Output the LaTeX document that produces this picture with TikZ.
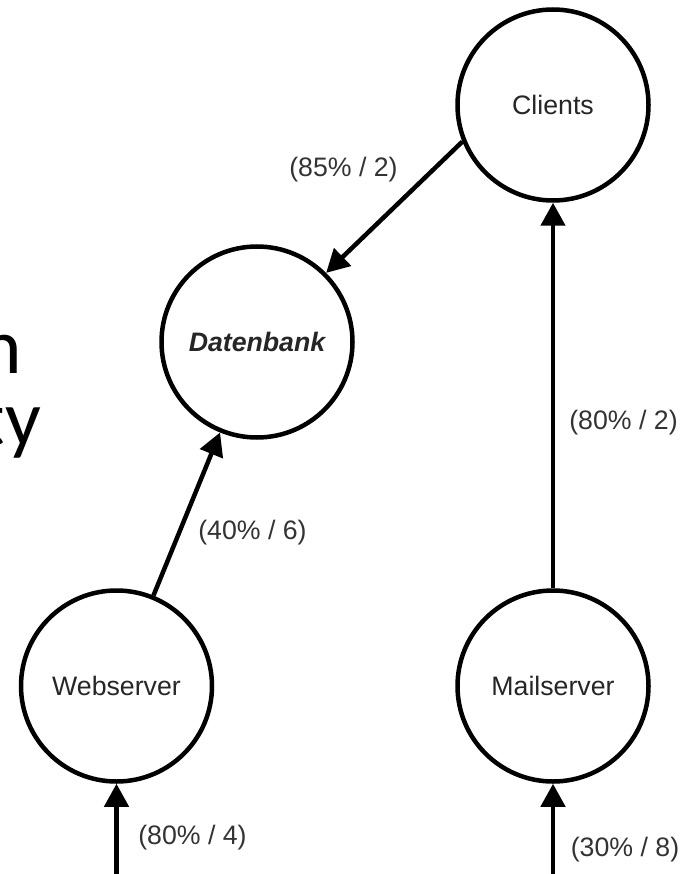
\documentclass[tikz,border=0pt]{standalone}
\usepackage{fontspec}
\setmainfont{Liberation Sans}
\newfontfamily\slidefont{Carlito}
\usetikzlibrary{arrows.meta}
\begin{document}
\begin{tikzpicture}[x=1pt,y=-1pt,
  srv/.style={circle, draw=black, line width=4.5pt, minimum size=191pt, inner sep=0pt,
    font=\fontsize{26.7}{32}\selectfont, text=black!85},
  lbl/.style={font=\fontsize{26.7}{32}\selectfont, text=black!80, inner sep=0pt},
  flow/.style={line width=4.5pt, -{Triangle[length=23pt,width=24pt]}},
  slide/.style={font=\slidefont\fontsize{79}{90}\selectfont, inner sep=0pt, anchor=base east, text=black}]
\useasboundingbox (0,0) rectangle (683,874);
\clip (0,0) rectangle (683,874);
\fill[white] (0,0) rectangle (683,874);

% slide text fragments
\node[slide] (s1) at (22,373) {n};
\node[slide] (s2) at (41,445) {ty};

% nodes
\node[srv] (cl) at (553,105) {Clients};
\node[srv] (db) at (257,342) {\bfseries\itshape Datenbank};
\node[srv] (ws) at (116.5,686) {Webserver};
\node[srv] (ms) at (553,686) {Mailserver};

\coordinate (wsin) at (116.5,890);
\coordinate (msin) at (553,890);

% connectors
\draw[flow] (cl.202.7) -- (db.45);
\draw[flow] (ws) -- (db);
\draw[flow] (ms.north) -- (cl.south);
\draw[flow] (wsin) -- (ws.south);
\draw[flow] (msin) -- (ms.south);

% labels
\node[lbl] (l1) at (343.5,170) {(85\% / 2)};
\node[lbl] (l2) at (252.5,533) {(40\% / 6)};
\node[lbl] (l3) at (623.5,423) {(80\% / 2)};
\node[lbl] (l4) at (192.5,838) {(80\% / 4)};
\node[lbl] (l5) at (625,850) {(30\% / 8)};
\end{tikzpicture}
\end{document}
